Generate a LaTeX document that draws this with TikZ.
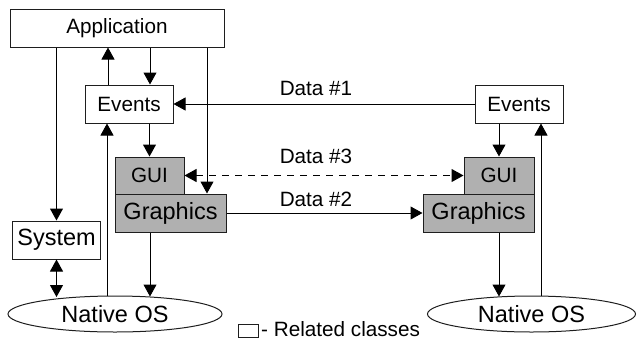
\documentclass[tikz,border=0pt]{standalone}
\usepackage{fontspec}
\setmainfont{Liberation Sans}
\usetikzlibrary{arrows.meta,shapes.geometric}
\definecolor{boxgray}{RGB}{176,176,176}
\definecolor{linec}{RGB}{30,30,30}
\tikzset{
  smallfont/.style={font=\fontsize{20.7}{24}\selectfont},
  bigfont/.style={font=\fontsize{23.5}{27}\selectfont},
  box/.style={draw=linec,line width=1pt,rectangle,inner sep=0pt,smallfont},
  graybox/.style={box,fill=boxgray},
  osell/.style={draw=linec,line width=1pt,ellipse,inner sep=0pt,minimum height=36pt,bigfont},
  arr/.style={draw=black,line width=1pt,-{Triangle[length=12pt,width=13pt]}},
  darr/.style={draw=black,line width=1pt,{Triangle[length=12pt,width=13pt]}-{Triangle[length=12pt,width=13pt]}},
  lbl/.style={anchor=base,inner sep=0pt,smallfont},
}
\begin{document}
\begin{tikzpicture}[x=1pt,y=-1pt]
\useasboundingbox (0,0) rectangle (637,341);
% nodes
\node[box,minimum width=214pt,minimum height=38pt] (app) at (117,28) {Application};
\node[box,minimum width=88pt,minimum height=38pt] (evL) at (129,104) {Events};
\node[graybox,minimum width=69pt,minimum height=37pt] (guiL) at (149.5,175.5) {GUI};
\node[graybox,bigfont,minimum width=111pt,minimum height=38pt] (grL) at (170.5,213) {Graphics};
\node[box,bigfont,minimum width=88pt,minimum height=38pt] (sys) at (56.5,240) {System};
\node[osell,minimum width=214pt] (osL) at (115,314) {Native OS};
\node[box,minimum width=88pt,minimum height=38pt] (evR) at (519,104) {Events};
\node[graybox,minimum width=70pt,minimum height=37pt] (guiR) at (499,175.5) {GUI};
\node[graybox,bigfont,minimum width=111pt,minimum height=38pt] (grR) at (478.5,213) {Graphics};
\node[osell,minimum width=208pt] (osR) at (531.5,314) {Native OS};
% left column connectors
\draw[arr] ([xshift=-21pt]evL.north) -- ([xshift=-21pt]evL.north |- app.south);
\draw[arr] ([xshift=21pt]evL.north |- app.south) -- ([xshift=21pt]evL.north);
\draw[arr] (sys.north |- app.south) -- (sys.north);
\draw[arr] ([xshift=36.5pt]grL.north |- app.south) -- ([xshift=36.5pt]grL.north);
\draw[arr] (evL.south -| guiL.north) -- (guiL.north);
\draw[arr] ([xshift=-22pt,yshift=-0.5pt]evL.south |- osL.north) -- ([xshift=-22pt]evL.south);
\draw[darr] (sys.south) -- ([yshift=-1.5pt]sys.south |- osL.north);
\draw[arr] ([xshift=-20.5pt]grL.south) -- ([xshift=-20.5pt,yshift=-1pt]grL.south |- osL.north);
% right column connectors
\draw[arr] (evR.south -| guiR.north) -- (guiR.north);
\draw[arr] ([xshift=22pt,yshift=-0.5pt]evR.south |- osR.north) -- ([xshift=22pt]evR.south);
\draw[arr] ([xshift=20.5pt]grR.south) -- ([xshift=20.5pt,yshift=-1pt]grR.south |- osR.north);
% data links
\draw[arr] (evR.west) -- (evL.east);
\draw[darr,dash pattern=on 7pt off 6pt] (guiL.east) -- (guiR.west);
\draw[arr] (grL.east) -- (grR.west);
\node[lbl] (d1) at (316,95) {Data \#1};
\node[lbl] (d3) at (316,163) {Data \#3};
\node[lbl] (d2) at (316,206.5) {Data \#2};
% legend
\node[draw=linec,line width=1pt,inner sep=0pt,minimum width=20pt,minimum height=13pt] (leg) at (248,330.5) {};
\node[lbl,anchor=base west] (legt) at (261,336) {- Related classes};
\end{tikzpicture}
\end{document}
